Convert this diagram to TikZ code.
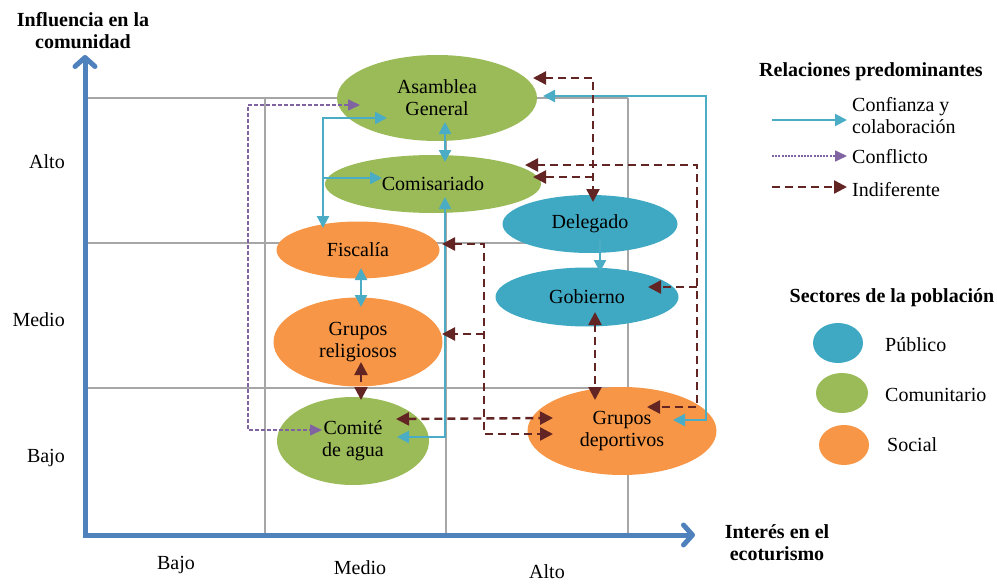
\documentclass[tikz,border=0pt]{standalone}
\usepackage{fontspec}
\setmainfont{Liberation Serif}
\usetikzlibrary{arrows.meta,shapes.geometric}
\definecolor{axisblue}{HTML}{4F81BD}
\definecolor{gridgray}{HTML}{A6A6A6}
\definecolor{comgreen}{HTML}{9BBB59}
\definecolor{socorange}{HTML}{F79646}
\definecolor{pubblue}{HTML}{3FA9C3}
\definecolor{trustc}{HTML}{4BACC6}
\definecolor{conflc}{HTML}{8064A2}
\definecolor{indiffc}{HTML}{632523}
\begin{document}
\begin{tikzpicture}[x=1pt,y=-1pt,
  font=\fontsize{20}{22}\selectfont,
  ell/.style={ellipse, draw=none, inner sep=0pt, align=center},
  pubnode/.style={ell, fill=pubblue},
  comnode/.style={ell, fill=comgreen},
  socnode/.style={ell, fill=socorange},
  gridline/.style={draw=gridgray, line width=1.3pt},
  axisline/.style={draw=axisblue, line width=5pt, line join=miter},
  trust/.style={draw=trustc, line width=2.3pt, >={Triangle[length=12pt,width=12pt]}},
  conflict/.style={draw=conflc, line width=1.6pt, dash pattern=on 4pt off 2pt, >={Triangle[length=12pt,width=11pt]}},
  indiff/.style={draw=indiffc, line width=2.4pt, dash pattern=on 8pt off 5pt, >={Triangle[length=13pt,width=13pt]}},
  lbl/.style={inner sep=0pt},
  ttl/.style={inner sep=0pt, font=\fontsize{20}{22}\selectfont\bfseries, align=center}
]
\useasboundingbox (0,0) rectangle (997,586);

% grid
\draw[gridline] (85,98) -- (628,98);
\draw[gridline] (85,243) -- (628,243);
\draw[gridline] (85,388) -- (628,388);
\draw[gridline] (265,98) -- (265,535);
\draw[gridline] (446,98) -- (446,535);
\draw[gridline] (628,98) -- (628,535);

% axes
\coordinate (O) at (85,535);
\coordinate (ytip) at (85,55);
\coordinate (xtip) at (695,535);
\draw[axisline,{Straight Barb[length=9pt,width=20pt,round]}-{Straight Barb[length=9pt,width=20pt,round]}] (ytip) -- (O) -- (xtip);

% axis labels
\node[ttl] (ylab) at (83,31) {Influencia en la\\comunidad};
\node[ttl] (xlab) at (777,543) {Interés en el\\ecoturismo};
\node[lbl, anchor=east] (yalto) at (65,162) {Alto};
\node[lbl, anchor=east] (ymedio) at (65,320) {Medio};
\node[lbl, anchor=east] (ybajo) at (65,458) {Bajo};
\node[lbl] (xbajo) at (176,565) {Bajo};
\node[lbl] (xmedio) at (360,568) {Medio};
\node[lbl] (xalto) at (547,572) {Alto};

% actors
\node[comnode, minimum width=200pt, minimum height=86pt] (asamblea) at (437,98) {Asamblea\\General};
\node[comnode, minimum width=216pt, minimum height=58pt] (comisariado) at (433,184) {Comisariado};
\node[pubnode, minimum width=175pt, minimum height=58pt] (delegado) at (590,224) {Delegado};
\node[pubnode, minimum width=183pt, minimum height=59pt] (gobierno) at (587,297) {Gobierno};
\node[socnode, minimum width=163pt, minimum height=57pt] (fiscalia) at (358,250) {Fiscalía};
\node[socnode, minimum width=169pt, minimum height=89pt] (religiosos) at (358,342) {Grupos\\religiosos};
\node[comnode, minimum width=152pt, minimum height=88pt] (comite) at (353,441) {Comité\\de agua};
\node[socnode, minimum width=189pt, minimum height=88pt] (deportivos) at (622,431) {Grupos\\deportivos};

% conflict
\coordinate (pc) at (248,430);
\draw[conflict,<->] ([shift={(-77,7)}]asamblea.center) -| (pc) -- ([shift={(-31,-11)}]comite.center);

% trust
\draw[trust,<->] ([shift={(-50,20)}]asamblea.center) -| ([shift={(-35,-22)}]fiscalia.center);
\coordinate (fj) at (323,178);
\draw[trust,->] (fj) -- ([shift={(-51,-6)}]comisariado.center);
\draw[trust,<->] ([shift={(8,24)}]asamblea.center) -- ([shift={(12,-22)}]comisariado.center);
\draw[trust,<->] ([shift={(12,13)}]comisariado.center) |- ([shift={(44,-4)}]comite.center);
\draw[trust,<->] ([shift={(3,18)}]fiscalia.center) -- ([shift={(3,-35)}]religiosos.center);
\draw[trust,->] ([shift={(10,16)}]delegado.center) -- ([shift={(13,-25)}]gobierno.center);
\coordinate (cr) at (706,420);
\draw[trust,<->] ([shift={(106,-2)}]asamblea.center) -| (cr) -- ([shift={(51,-11)}]deportivos.center);

% indifferent
\draw[indiff,<->] ([shift={(3,20)}]religiosos.center) -- ([shift={(8,-41)}]comite.center);
\draw[indiff,<->] ([shift={(8,15)}]gobierno.center) -- ([shift={(-27,-31)}]deportivos.center);
\draw[indiff,<->] ([shift={(96,-20)}]asamblea.center) -| ([shift={(3,-22)}]delegado.center);
\coordinate (cr2) at (697,407);
\coordinate (gj) at (697,287);
\draw[indiff,<->] ([shift={(92,-19)}]comisariado.center) -| (cr2) -- ([shift={(25,-24)}]deportivos.center);
\draw[indiff,->] (gj) -- ([shift={(61,-10)}]gobierno.center);
\coordinate (dj) at (593,177);
\draw[indiff,->] (dj) -- ([shift={(100,-7)}]comisariado.center);
\coordinate (fj2) at (484,434);
\coordinate (rj) at (484,334);
\draw[indiff,<->] ([shift={(84,-6)}]fiscalia.center) -| (fj2) -- ([shift={(-69,3)}]deportivos.center);
\draw[indiff,->] (rj) -- ([shift={(84,-8)}]religiosos.center);
\draw[indiff,<->] ([shift={(43,-22)}]comite.center) -- ([shift={(-69,-13)}]deportivos.center);

% legend: relations
\node[ttl] (reltitle) at (871,72) {Relaciones predominantes};
\coordinate (l1a) at (772,120); \coordinate (l1b) at (847,120);
\coordinate (l2a) at (772,156); \coordinate (l2b) at (847,156);
\coordinate (l3a) at (772,187); \coordinate (l3b) at (847,187);
\draw[trust,->] (l1a) -- (l1b);
\draw[conflict,->,dash pattern=on 2pt off 1.2pt] (l2a) -- (l2b);
\draw[indiff,->] (l3a) -- (l3b);
\node[lbl, anchor=west, align=left] (lt1) at (852,116) {Confianza y\\colaboración};
\node[lbl, anchor=west] (lt2) at (852,157) {Conflicto};
\node[lbl, anchor=west] (lt3) at (852,190) {Indiferente};

% legend: sectors
\node[ttl] (sectitle) at (892,298) {Sectores de la población};
\node[pubnode, minimum width=50pt, minimum height=40pt] (lpub) at (838,343) {};
\node[comnode, minimum width=52pt, minimum height=40pt] (lcom) at (842,393) {};
\node[socnode, minimum width=50pt, minimum height=40pt] (lsoc) at (844,445) {};
\node[lbl, anchor=west] (tpub) at (885,345) {Público};
\node[lbl, anchor=west] (tcom) at (885,395) {Comunitario};
\node[lbl, anchor=west] (tsoc) at (887,445) {Social};
\end{tikzpicture}
\end{document}
